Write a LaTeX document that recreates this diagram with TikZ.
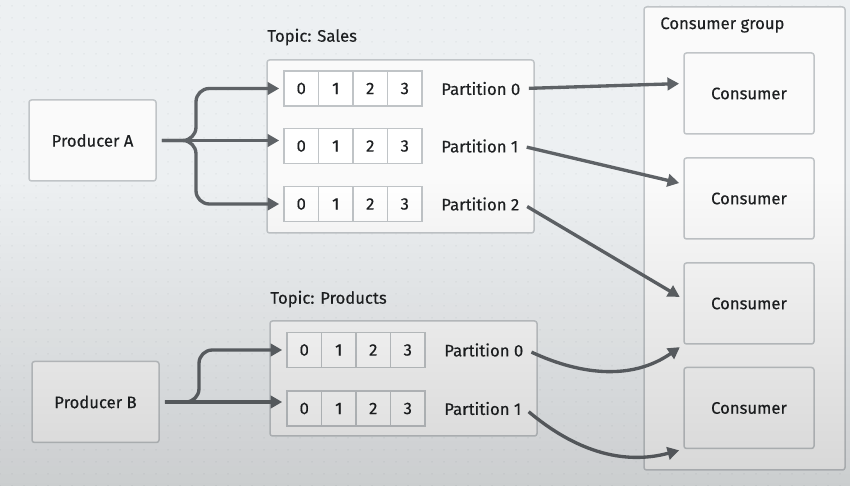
\documentclass[tikz,border=0pt]{standalone}
\usepackage{fontspec}
\setmainfont{Fira Sans}[FakeBold=0.4]
\usetikzlibrary{arrows.meta,positioning,calc,fadings,patterns.meta}
\definecolor{bgpaper}{RGB}{237,240,242}
\definecolor{bgdot}{RGB}{220,224,227}
\definecolor{boxline}{RGB}{192,196,199}
\definecolor{boxfill}{RGB}{250,250,250}
\definecolor{flowgray}{RGB}{94,98,102}
\definecolor{inkdark}{RGB}{30,32,34}

\begin{document}
\begin{tikzpicture}[x=0.6pt, y=-0.6pt, >=Stealth, font=\fontsize{10}{12}\selectfont, text=inkdark,
  box/.style={draw=boxline, line width=0.9pt, fill=boxfill, rounded corners=1.5pt},
  producer/.style={box, minimum width=76.2pt, minimum height=48.6pt},
  consumer/.style={box, minimum width=78pt, minimum height=48.6pt},
  cell/.style={draw=boxline, line width=0.8pt, fill=white, inner sep=0pt,
               minimum width=20.7pt, minimum height=21pt},
  plabel/.style={inner sep=2pt},
  title/.style={anchor=west, inner sep=0pt},
  flow/.style={draw=flowgray, line width=2pt, -{Triangle[length=7pt,width=7.5pt]},
               shorten >=2.5pt, shorten <=3pt}]
\useasboundingbox (0,0) rectangle (850,486);
\fill[bgpaper] (0,0) rectangle (850,486);
\fill[pattern={Dots[distance=7.2pt,radius=0.45pt]}, pattern color=bgdot] (0,0) rectangle (850,486);

\node[box, minimum width=120.6pt, minimum height=277.8pt] (group) at (744.5,238.5) {};
\node[title] (grouplabel) at (660,25) {Consumer group};
\foreach \k/\y in {0/93.5,1/198.5,2/303.5,3/408}
  \node[consumer] (c\k) at (749,\y) {Consumer};

\node[box, minimum width=160.2pt, minimum height=103.8pt] (tsales) at (400.5,146.5) {};
\node[title] (tsaleslabel) at (267,37) {Topic: Sales};
\foreach \r/\y in {0/88.5,1/146,2/204} {
  \foreach \i in {0,...,3}
    \node[cell] (s\r-\i) at ({301.25+34.5*\i},\y) {\i};
  \node[plabel, right=9pt of s\r-3] (sp\r) {Partition \r};
}

\node[box, minimum width=160.2pt, minimum height=69pt] (tprod) at (403.5,378.5) {};
\node[title] (tprodlabel) at (270,299) {Topic: Products};
\foreach \r/\y in {0/350,1/408.5} {
  \foreach \i in {0,...,3}
    \node[cell] (p\r-\i) at ({304.25+34.5*\i},\y) {\i};
  \node[plabel, right=9pt of p\r-3] (pp\r) {Partition \r};
}

\node[producer] (pa) at (92.5,140.5) {Producer A};
\node[producer] (pb) at (95.5,402) {Producer B};
\coordinate (forkA) at (196,140.5);
\coordinate (forkB) at (199,402);

\draw[flow, rounded corners=8pt] (pa.east) -- (forkA) |- (s0-0.west);
\draw[flow] (pa.east) -- (pa.east -| s1-0.west);
\draw[flow, rounded corners=8pt] (pa.east) -- (forkA) |- (s2-0.west);
\draw[flow, rounded corners=8pt] (pb.east) -- (forkB) |- (p0-0.west);
\draw[flow] (pb.east) -- (pb.east -| p1-0.west);

\draw[flow] (sp0.east) -- ([yshift=6pt]c0.west);
\draw[flow] (sp1.east) -- ([yshift=8.7pt]c1.west);
\draw[flow] (sp2.east) -- ([yshift=2.7pt]c2.west);
\draw[flow] (pp0.east) to[out=-25, in=215] (c2.south west);
\draw[flow] (pp1.east) to[out=-40, in=195] (c3.south west);

\fill[black, fill opacity=0.14, path fading=north] (0,180) rectangle (850,486);
\end{tikzpicture}
\end{document}
